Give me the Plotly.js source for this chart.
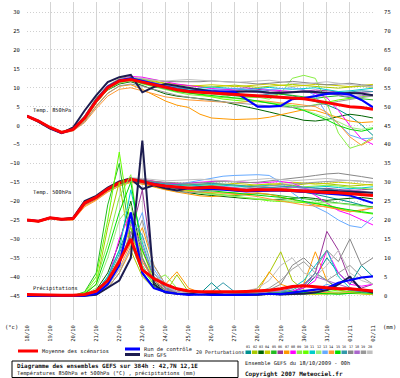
<!DOCTYPE html>
<html><head><meta charset="utf-8">
<script src="https://cdn.plot.ly/plotly-3.0.1.min.js"></script>
<style>html,body{margin:0;padding:0;background:#fff}#chart{width:400px;height:378px}</style>
</head><body><div id="chart"></div>
<script>
// time axis (hours since 18/10/2009 00h), 12-hourly
const hours = [0,12,24,36,48,60,72,84,96,108,120,132,144,156,168,180,192,204,216,228,240,252,264,276,288,300,312,324,336,348,360];
const tickHours = [0,24,48,72,96,120,144,168,192,216,240,264,288,312,336,360];
const dateLabels = ["18/10","19/10","20/10","21/10","22/10","23/10","24/10","25/10","26/10","27/10","28/10","29/10","30/10","31/10","01/11","02/11"];
const leftTicks = [30,25,20,15,10,5,0,-5,-10,-15,-20,-25,-30,-35,-40,-45];
const rightTicks = [75,70,65,60,55,50,45,40,35,30,25,20,15,10,5,0];
const pertNames = ["01","02","03","04","05","06","07","08","09","10","11","12","13","14","15","16","17","18","19","20"];
const pertColors = ["#009090","#a8c800","#006400","#cccc00","#22bb22","#993399","#ff9900","#ff00ff","#88ee44","#66ff00","#00cccc","#99ee77","#66aaff","#ff9933","#00dd00","#3399aa","#888888","#aa66cc","#999999","#c0c0c0"];

// 850 hPa temperature (°C)
const t850Mean = [2.5,1.2,-0.5,-1.8,-1.0,2.0,6.5,10.0,11.8,12.2,11.5,10.8,10.0,9.5,9.0,8.8,8.6,8.4,8.2,8.0,7.8,7.6,7.4,7.3,7.1,6.6,6.0,5.5,5.0,4.8,4.3];
const t850Control = [2.5,1.2,-0.6,-1.9,-1.0,2.2,6.8,10.3,12.0,12.5,11.8,11.0,10.2,9.6,9.2,9.0,9.0,9.0,8.9,7.0,5.0,5.0,5.2,7.0,7.3,7.8,8.4,8.6,8.2,6.8,4.8];
const t850Gfs = [2.5,1.0,-0.8,-2.0,-0.5,4.0,8.0,11.5,12.8,13.4,8.8,10.2,11.0,10.5,9.8,9.4,9.0,8.8,8.9,9.1,9.0,8.7,8.6,8.8,9.0,8.9,8.6,8.4,8.6,8.5,8.0];
const t850Perts = [
 [2.6,1.0,-0.8,-2.0,-1.2,1.5,6.0,9.6,11.4,12.0,11.2,10.5,9.8,9.6,9.3,9.0,8.8,8.6,8.8,9.0,9.2,8.8,8.4,7.9,7.2,6.4,5.5,4.2,2.5,0.2,-2.6],
 [2.5,1.3,-0.4,-1.6,-0.7,2.6,7.3,10.6,12.4,12.9,12.1,11.6,11.1,10.9,10.6,10.3,10.2,10.5,10.7,10.4,10.1,10.4,10.6,10.9,10.6,10.3,10.1,9.9,10.2,10.4,10.1],
 [2.4,1.1,-0.6,-1.9,-1.1,1.8,6.2,9.4,11.0,11.6,10.6,9.6,8.4,7.8,7.5,7.2,6.8,6.3,5.7,5.0,4.3,3.6,2.8,2.0,1.4,1.2,1.6,2.4,3.0,2.6,2.0],
 [2.5,1.2,-0.5,-1.7,-0.9,2.2,6.8,10.2,12.0,12.6,12.2,11.8,11.2,10.8,10.5,10.6,10.8,10.6,10.3,10.5,10.8,11.0,10.7,10.4,10.6,10.9,10.8,10.5,10.3,10.6,10.9],
 [2.5,1.2,-0.6,-1.8,-1.0,2.1,6.6,10.1,11.9,12.3,11.6,10.9,10.1,9.6,9.0,8.7,8.5,8.1,7.8,7.6,7.5,7.9,8.3,8.0,7.5,7.2,7.6,7.9,7.4,7.0,6.8],
 [2.6,1.3,-0.4,-1.8,-1.1,1.9,6.4,9.8,11.7,12.4,12.0,11.4,10.6,10.0,9.7,9.4,9.2,9.5,9.8,10.0,9.6,9.2,9.0,8.8,9.1,9.4,9.2,8.9,8.6,8.8,9.0],
 [2.4,1.0,-0.7,-2.0,-1.3,1.2,5.2,8.6,10.4,10.8,9.6,8.0,6.5,5.4,4.8,3.0,2.0,1.8,1.6,1.7,1.8,2.2,2.9,3.6,4.2,4.0,3.0,2.0,1.2,0.8,1.0],
 [2.5,1.2,-0.5,-1.8,-1.0,2.0,6.6,10.3,12.2,13.0,12.8,12.2,11.5,11.0,10.6,10.2,9.8,9.6,9.4,9.6,9.8,9.5,9.2,9.0,9.0,8.5,7.4,4.0,0.0,-3.5,-5.0],
 [2.5,1.2,-0.5,-1.9,-1.2,1.6,6.0,9.5,11.2,11.8,11.0,10.2,9.4,8.8,8.2,7.9,7.6,7.4,7.2,7.4,7.5,7.0,8.5,12.5,13.3,12.5,6.0,-2.0,-6.0,-5.0,-3.0],
 [2.4,1.1,-0.6,-1.9,-1.0,2.2,6.9,10.4,12.0,12.4,11.5,10.6,9.8,9.2,8.8,8.2,7.6,7.0,6.7,6.4,6.3,6.0,5.6,5.3,5.0,5.5,6.2,6.8,7.2,7.6,8.0],
 [2.5,1.2,-0.5,-1.8,-1.1,1.9,6.4,9.9,11.7,12.2,11.7,11.0,10.4,9.9,9.6,9.9,10.2,10.0,9.7,9.5,9.8,10.1,9.8,9.6,9.8,10.0,9.5,9.0,9.2,9.6,9.9],
 [2.5,1.3,-0.3,-1.6,-0.8,2.4,7.0,10.4,12.1,12.5,11.8,11.0,10.2,9.8,9.4,9.0,8.6,8.0,7.2,6.8,6.5,6.2,5.8,5.2,4.2,3.0,2.0,1.0,-0.5,-1.0,-0.5],
 [2.6,1.3,-0.4,-1.7,-0.9,2.1,6.7,10.2,12.0,12.5,12.0,11.3,10.6,10.2,9.8,9.6,9.5,9.7,9.9,9.6,9.2,9.5,9.8,10.0,9.5,8.0,3.0,0.5,-2.5,-3.5,-3.3],
 [2.3,1.0,-0.7,-2.1,-1.4,0.8,4.5,7.8,9.6,10.0,9.2,8.4,7.6,7.2,6.8,6.6,6.4,6.2,6.0,6.3,6.6,6.4,6.0,5.8,5.5,5.0,3.5,0.5,-3.0,-5.2,-3.5],
 [2.5,1.2,-0.5,-1.8,-1.0,2.0,6.5,10.0,11.8,12.0,11.2,10.4,9.6,9.0,8.6,8.3,8.0,7.8,7.5,7.0,6.5,6.0,5.5,4.8,4.0,2.8,1.5,0.0,-1.0,-1.5,-0.8],
 [2.5,1.1,-0.6,-1.9,-1.0,2.0,6.5,10.1,11.9,12.6,12.0,11.2,10.5,10.0,9.8,9.6,9.2,8.8,8.5,8.2,8.0,8.3,8.6,8.8,9.0,8.7,8.4,8.6,8.9,9.2,9.0],
 [2.6,1.4,-0.3,-1.6,-0.8,2.3,6.8,10.3,12.1,12.7,12.4,12.0,11.7,11.6,11.5,11.6,11.8,11.7,11.5,11.3,11.0,11.2,11.5,11.7,11.4,11.0,10.8,11.0,11.2,10.8,10.5],
 [2.5,1.2,-0.5,-1.8,-1.0,1.9,6.5,10.0,11.8,12.3,11.4,10.6,9.8,9.5,9.2,9.0,9.0,9.2,9.3,9.0,8.8,8.5,8.8,9.0,9.2,9.0,8.5,8.0,7.6,7.9,8.2],
 [2.4,1.0,-0.8,-2.0,-1.3,1.0,5.0,8.5,10.5,11.0,10.4,9.6,8.6,8.0,7.5,7.0,6.6,6.3,6.0,5.8,5.5,5.2,5.0,4.8,5.0,5.3,5.8,6.4,7.0,7.4,7.8],
 [2.6,1.3,-0.4,-1.7,-0.9,2.4,7.0,10.6,12.3,12.8,12.5,12.0,11.8,12.0,12.2,12.0,11.8,11.6,11.4,11.6,11.8,12.0,11.6,11.2,11.0,11.3,11.6,11.2,10.8,10.5,10.2]
];

// 500 hPa temperature (°C)
const t500Mean = [-25.0,-25.3,-24.4,-24.8,-24.6,-20.5,-19.0,-16.8,-15.2,-14.2,-14.8,-15.6,-16.0,-16.3,-16.5,-16.5,-16.3,-16.6,-17.0,-17.2,-17.0,-17.0,-17.0,-17.2,-17.4,-17.6,-17.7,-17.8,-18.0,-18.3,-18.5];
const t500Control = [-25.0,-25.3,-24.4,-24.8,-24.6,-20.5,-19.0,-16.8,-15.2,-14.3,-14.8,-15.5,-16.0,-16.4,-16.6,-16.8,-16.7,-16.9,-17.2,-17.4,-17.3,-17.2,-17.1,-17.3,-17.5,-17.7,-18.0,-18.2,-18.5,-19.4,-20.5];
const t500Gfs = [-25.0,-25.3,-24.4,-24.8,-24.4,-20.0,-18.6,-16.4,-14.8,-14.0,-16.8,-15.8,-16.6,-17.2,-16.6,-16.3,-16.5,-16.8,-17.0,-17.3,-17.2,-17.1,-17.2,-17.4,-17.5,-17.3,-17.2,-17.4,-17.5,-17.6,-17.8];
const t500Perts = [
 [-25.1,-25.4,-24.5,-24.9,-24.7,-20.8,-19.2,-17.0,-15.4,-14.4,-15.0,-15.8,-16.2,-16.5,-16.6,-16.4,-16.0,-16.3,-16.8,-17.0,-16.6,-16.4,-16.8,-17.2,-17.6,-18.2,-18.8,-19.5,-20.2,-21.0,-21.8],
 [-25.0,-25.2,-24.3,-24.7,-24.5,-20.3,-18.8,-16.6,-15.0,-14.0,-14.4,-15.0,-15.4,-15.6,-15.8,-15.6,-15.3,-15.5,-15.8,-16.0,-15.7,-15.4,-15.6,-15.9,-15.5,-15.2,-15.4,-15.7,-16.0,-15.8,-15.5],
 [-25.0,-25.3,-24.4,-24.8,-24.6,-20.6,-19.1,-17.0,-15.6,-14.8,-15.4,-16.2,-16.8,-17.3,-17.8,-18.2,-18.5,-18.8,-19.0,-19.3,-19.5,-19.6,-19.5,-19.2,-19.0,-19.3,-19.8,-19.5,-19.2,-19.0,-19.4],
 [-25.0,-25.3,-24.4,-24.8,-24.6,-20.5,-19.0,-16.7,-15.0,-14.0,-14.3,-14.8,-15.2,-15.4,-15.5,-15.7,-15.9,-15.6,-15.3,-15.5,-15.8,-15.6,-15.3,-15.0,-15.2,-15.5,-15.3,-15.0,-15.2,-15.5,-15.8],
 [-25.1,-25.3,-24.5,-24.8,-24.7,-20.7,-19.1,-16.9,-15.3,-14.3,-14.9,-15.7,-16.3,-16.8,-17.3,-17.8,-18.1,-18.4,-18.5,-18.3,-18.0,-18.2,-18.6,-19.0,-19.4,-19.8,-20.2,-20.5,-20.8,-21.2,-21.5],
 [-25.0,-25.3,-24.4,-24.8,-24.6,-20.5,-19.0,-16.8,-15.2,-14.2,-14.6,-15.2,-15.8,-16.2,-16.4,-16.3,-16.0,-16.2,-16.5,-16.8,-16.6,-16.4,-16.6,-16.9,-17.0,-16.8,-16.6,-16.9,-17.2,-17.0,-16.8],
 [-25.2,-25.5,-24.6,-25.0,-24.9,-21.2,-19.6,-17.5,-16.0,-15.0,-15.5,-16.3,-17.0,-17.6,-18.2,-18.6,-18.8,-18.6,-18.3,-18.0,-17.8,-18.2,-18.8,-19.6,-20.4,-21.0,-21.6,-22.4,-22.8,-22.3,-21.8],
 [-25.0,-25.3,-24.4,-24.8,-24.6,-20.4,-18.9,-16.6,-15.0,-14.0,-14.2,-14.8,-15.2,-15.4,-15.2,-15.0,-14.8,-14.6,-14.8,-15.0,-15.2,-15.0,-14.8,-15.2,-16.5,-18.5,-20.5,-22.5,-23.5,-25.0,-26.3],
 [-25.1,-25.4,-24.5,-24.9,-24.7,-20.8,-19.3,-17.2,-15.6,-14.6,-15.2,-16.0,-16.5,-17.0,-17.2,-17.4,-17.6,-17.8,-17.6,-17.4,-17.2,-17.0,-16.8,-16.5,-16.2,-16.0,-15.8,-16.0,-16.3,-16.6,-16.9],
 [-25.0,-25.3,-24.4,-24.8,-24.6,-20.5,-19.0,-16.8,-15.2,-14.3,-14.8,-15.6,-16.2,-16.8,-17.2,-17.6,-18.0,-18.4,-18.8,-19.2,-19.6,-19.9,-20.1,-20.2,-20.3,-20.5,-21.0,-21.8,-22.6,-23.0,-23.4],
 [-25.0,-25.2,-24.3,-24.7,-24.5,-20.4,-18.9,-16.7,-15.1,-14.1,-14.5,-15.1,-15.5,-15.8,-16.0,-15.8,-15.6,-15.8,-16.0,-16.2,-16.0,-15.8,-16.0,-16.3,-16.5,-16.3,-16.1,-16.4,-16.7,-16.5,-16.2],
 [-25.0,-25.3,-24.4,-24.8,-24.6,-20.6,-19.1,-16.9,-15.3,-14.3,-14.9,-15.7,-16.4,-17.0,-17.5,-17.9,-18.2,-18.5,-18.9,-19.2,-19.4,-19.6,-19.8,-20.0,-20.1,-20.2,-20.4,-20.6,-21.0,-21.4,-21.8],
 [-25.0,-25.3,-24.4,-24.8,-24.6,-20.5,-19.0,-16.8,-15.2,-14.3,-14.8,-15.4,-15.8,-15.6,-15.0,-14.4,-13.8,-13.4,-13.2,-13.0,-13.0,-13.2,-15.0,-17.8,-20.0,-21.5,-23.0,-25.0,-26.5,-27.0,-24.2],
 [-25.2,-25.5,-24.7,-25.1,-25.0,-21.5,-19.8,-17.6,-16.0,-15.0,-15.4,-16.0,-16.5,-17.0,-17.4,-17.6,-17.8,-17.9,-18.0,-18.3,-18.8,-19.4,-20.0,-20.5,-21.0,-21.3,-21.5,-22.0,-22.8,-22.5,-21.8],
 [-25.0,-25.3,-24.4,-24.8,-24.6,-20.5,-19.0,-16.8,-15.2,-14.2,-14.8,-15.5,-16.0,-16.4,-16.7,-17.0,-17.3,-17.5,-17.8,-18.0,-18.3,-18.6,-19.0,-19.5,-20.0,-20.6,-21.2,-21.8,-22.4,-22.8,-23.2],
 [-25.0,-25.3,-24.4,-24.8,-24.6,-20.5,-19.0,-16.8,-15.2,-14.1,-14.5,-15.0,-15.4,-15.6,-15.7,-15.5,-15.3,-15.5,-15.8,-16.0,-16.2,-16.4,-16.2,-16.0,-16.3,-16.6,-16.8,-17.0,-17.3,-17.6,-17.8],
 [-25.0,-25.2,-24.3,-24.7,-24.5,-20.3,-18.8,-16.5,-14.9,-13.9,-14.2,-14.8,-15.0,-15.2,-15.3,-15.2,-15.0,-14.8,-14.9,-15.1,-15.0,-14.7,-14.4,-14.0,-13.6,-13.2,-12.8,-12.6,-13.0,-13.5,-14.0],
 [-25.0,-25.3,-24.4,-24.8,-24.6,-20.5,-19.0,-16.8,-15.2,-14.2,-14.6,-15.3,-15.8,-16.2,-16.5,-16.6,-16.4,-16.2,-16.4,-16.8,-17.0,-16.8,-16.5,-16.3,-16.6,-17.0,-17.4,-17.2,-17.0,-17.4,-17.8],
 [-25.1,-25.4,-24.6,-25.0,-24.8,-21.0,-19.4,-17.2,-15.6,-14.6,-15.2,-16.0,-16.8,-17.4,-17.8,-17.6,-17.3,-17.0,-16.7,-16.5,-16.3,-16.0,-15.7,-15.4,-15.2,-15.0,-14.8,-14.6,-14.5,-14.7,-15.0],
 [-24.9,-25.2,-24.3,-24.7,-24.5,-20.2,-18.7,-16.5,-14.9,-13.8,-14.0,-14.4,-14.6,-14.5,-14.3,-14.2,-14.4,-14.6,-14.8,-14.5,-14.2,-14.0,-14.3,-14.6,-14.4,-14.2,-14.0,-14.3,-14.6,-14.8,-15.0]
];

// precipitation (mm), right axis
const precMean = [0.3,0.2,0.1,0.1,0.1,0.3,1.2,4.0,9.0,15.0,6.8,4.5,3.0,1.8,1.2,1.0,1.0,0.9,1.0,1.1,1.2,1.4,1.8,2.4,2.6,2.4,2.0,1.8,1.8,1.5,1.2];
const precControl = [0,0,0,0,0,0,0.5,3.0,8.0,22.0,6.0,2.0,1.0,0.5,0.2,0.3,0.2,0.2,0.1,0.2,0.3,0.5,0.4,0.8,1.2,1.5,2.0,3.4,4.0,4.8,5.1];
const precGfs = [0,0,0,0,0,0,0.2,2.0,4.0,10.0,41.0,3.0,0.8,0.5,0.4,1.0,0.5,0.3,0.2,0.3,0.2,0.5,0.3,0.4,0.5,0.8,1.5,3.0,5.0,1.5,0.8];
const precPerts = [
 [0,0,0,0,0,0,1.0,5.0,12.0,20.0,8.0,3.0,1.0,0.5,0.3,0.5,3.4,0.6,0.3,0.5,0.8,1.2,0.6,1.0,2.0,5.0,10.0,6.0,3.0,8.0,5.0],
 [0,0,0,0,0,0.5,3.0,18.0,30.0,12.0,5.0,2.0,0.8,5.5,1.0,0.3,0.2,0.5,0.8,0.4,2.0,6.0,11.6,4.0,1.5,0.6,0.4,0.8,1.2,0.5,0.3],
 [0,0,0,0,0,0.2,1.5,6.0,14.0,25.0,10.0,3.5,1.5,0.8,0.4,0.3,0.5,1.0,0.6,0.3,0.2,0.4,0.6,0.5,0.8,1.0,1.4,2.0,1.5,1.0,0.8],
 [0,0,0,0,0,0,0.8,4.0,10.0,18.0,12.0,4.0,1.5,0.6,0.3,0.2,0.2,0.3,0.5,0.3,0.2,0.3,0.5,0.6,0.4,0.3,0.5,0.8,0.6,0.4,0.3],
 [0,0,0,0,0,1.0,6.0,24.0,35.0,14.0,6.0,2.5,1.0,0.6,0.4,0.3,0.2,0.3,0.4,0.6,0.5,0.3,0.4,0.6,1.0,0.8,0.5,0.4,0.6,0.8,0.5],
 [0,0,0,0,0,0,0.5,3.0,9.0,16.0,28.0,6.0,2.0,1.0,0.5,0.4,0.3,0.2,0.3,0.2,0.3,0.5,0.8,1.0,2.5,6.0,17.0,12.0,4.0,2.0,3.0],
 [0,0,0,0,0,0,0.3,2.0,6.0,12.0,18.0,8.0,3.0,6.3,2.0,0.8,0.5,0.4,0.6,0.8,1.0,6.3,3.0,2.0,3.0,11.6,4.0,1.5,0.8,0.6,0.5],
 [0,0,0,0,0,0,0.8,4.0,15.0,22.0,9.0,4.0,1.5,0.8,0.5,0.3,0.2,0.2,0.3,0.4,0.5,0.8,1.0,1.2,2.0,4.0,12.0,6.0,3.0,2.5,3.0],
 [0,0,0,0,0,0.5,4.0,14.0,26.0,32.0,10.0,4.0,5.5,2.0,1.0,0.5,0.4,0.3,0.4,0.6,0.8,1.0,1.5,1.0,0.8,0.6,0.5,0.8,1.2,0.8,0.6],
 [0,0,0,0,0,0.8,5.0,20.0,38.0,18.0,7.0,3.0,1.2,0.6,0.4,0.3,0.4,0.6,0.4,0.3,0.5,0.8,0.6,0.4,0.5,0.7,1.0,1.5,1.0,0.8,0.6],
 [0,0,0,0,0,0,1.0,5.0,12.0,28.0,14.0,5.0,2.0,1.0,0.6,0.4,0.3,0.5,0.8,0.6,0.4,0.6,1.0,2.0,4.0,8.0,12.0,5.0,2.0,1.5,1.0],
 [0,0,0,0,0,0.3,2.0,10.0,20.0,24.0,8.0,3.0,1.0,0.5,0.3,0.2,0.3,0.4,0.3,0.2,0.4,0.6,0.8,0.5,0.4,0.6,0.8,1.0,0.8,0.6,0.5],
 [0,0,0,0,0,0,0.6,3.5,9.0,15.0,22.0,7.0,2.5,1.0,0.5,0.4,0.3,0.2,0.3,0.4,0.3,0.5,0.6,0.8,1.0,1.5,3.0,2.0,1.5,1.0,0.8],
 [0,0,0,0,0,0,0.4,2.5,7.0,14.0,9.0,4.0,2.0,1.0,0.6,0.4,0.3,0.4,0.5,0.4,0.3,0.5,0.7,0.9,1.2,1.0,0.8,0.6,0.8,1.0,0.8],
 [0,0,0,0,0,0.4,3.0,12.0,22.0,30.0,12.0,5.0,2.0,1.0,0.5,0.4,0.3,0.3,0.4,0.5,0.4,0.6,0.8,1.0,0.8,0.6,0.5,0.4,0.6,0.8,0.6],
 [0,0,0,0,0,0,0.8,4.5,11.0,20.0,16.0,6.0,2.5,1.0,0.5,0.6,1.0,3.4,1.0,0.5,0.4,0.6,0.8,1.5,3.0,6.0,4.0,2.0,1.5,1.0,0.8],
 [0,0,0,0,0,0,0.5,3.0,8.0,17.0,10.0,4.0,1.5,0.8,0.5,0.4,0.3,0.4,0.6,0.8,1.0,1.5,3.0,8.0,10.0,7.0,12.0,9.0,15.0,8.0,10.0],
 [0,0,0,0,0,0,0.6,3.0,10.0,19.0,13.0,5.0,2.0,1.0,0.6,0.4,0.3,0.2,0.3,0.5,0.8,1.0,1.2,2.0,3.0,5.0,4.0,3.0,2.0,1.5,1.2],
 [0,0,0,0,0,0,0.3,2.0,6.0,13.0,20.0,8.0,3.0,1.5,0.8,0.5,0.4,0.3,0.4,0.6,1.0,2.0,4.0,7.0,9.0,6.0,4.0,6.0,8.0,5.0,3.0],
 [0,0,0,0,0,0,0.4,2.5,7.0,12.0,15.0,6.0,2.5,1.0,0.6,0.5,0.4,0.5,0.8,1.2,2.0,4.0,8.0,10.0,6.0,5.0,8.0,12.0,6.0,4.0,3.0]
];

const RED = "#ff0000", BLUE = "#0000ff", NAVY = "#1c1c50";
const MONO = "DejaVu Sans Mono";

const traces = [];
function addGroup(perts, gfs, ctrl, mean, yaxis) {
  perts.forEach((s, k) => traces.push({x: hours, y: s, yaxis: yaxis, mode: "lines", line: {color: pertColors[k], width: 1}, hoverinfo: "skip"}));
  traces.push({x: hours, y: gfs, yaxis: yaxis, mode: "lines", line: {color: NAVY, width: 2}});
  traces.push({x: hours, y: ctrl, yaxis: yaxis, mode: "lines", line: {color: BLUE, width: 2.2}});
  traces.push({x: hours, y: mean, yaxis: yaxis, mode: "lines", line: {color: RED, width: 3}});
}
addGroup(precPerts, precGfs, precControl, precMean, "y2");
addGroup(t500Perts, t500Gfs, t500Control, t500Mean, "y");
addGroup(t850Perts, t850Gfs, t850Control, t850Mean, "y");

// pixel helpers for items drawn outside the plot area
const PL = 27, PR = 373, PT = 2, PB = 320;
const fx = x => (x - PL) / (PR - PL);
const fy = y => (PB - y) / (PB - PT);

const ann = [];
const shapes = [];
function txt(x, y, s, size, bold, anchor) {
  ann.push({xref: "paper", yref: "paper", x: fx(x), y: fy(y), text: bold ? "<b>" + s + "</b>" : s,
    showarrow: false, xanchor: anchor || "left", yanchor: "middle", borderpad: 0,
    font: {family: MONO, size: size, color: "#111"}});
}
function seg(x0, x1, y, color, w) {
  shapes.push({type: "line", xref: "paper", yref: "paper", x0: fx(x0), x1: fx(x1), y0: fy(y), y1: fy(y), line: {color: color, width: w}});
}

txt(32, 110, "Temp. 850hPa", 5.3);
txt(32, 192, "Temp. 500hPa", 5.3);
txt(32, 288, "Précipitations", 5.3);
txt(4, 327, "(°c)", 5.5);
txt(382, 327, "(mm)", 5.5);

seg(18, 38, 351, RED, 3);
txt(41, 351, "Moyenne des scénarios", 5.3);
seg(125, 140, 349, BLUE, 3);
seg(125, 140, 354.5, NAVY, 3);
txt(143, 349, "Run de contrôle", 5.3);
txt(143, 355, "Run GFS", 5.3);
txt(195, 352, "20 Perturbations", 5);
pertNames.forEach((n, k) => {
  const x0 = 245 + k * 6.4;
  shapes.push({type: "rect", xref: "paper", yref: "paper", x0: fx(x0 + 0.5), x1: fx(x0 + 6), y0: fy(354), y1: fy(350.5),
    line: {width: 0}, fillcolor: pertColors[k]});
  txt(x0 + 3.2, 347, n, 3.5, false, "center");
});

shapes.push({type: "rect", xref: "paper", yref: "paper", x0: fx(12), x1: fx(238), y0: fy(361), y1: fy(377.5),
  line: {color: "#000", width: 1}, fillcolor: "rgba(0,0,0,0)"});
txt(16, 366, "Diagramme des ensembles GEFS sur 384h : 42,7N 12,1E", 5.9, true);
txt(16, 373.5, "Températures 850hPa et 500hPa (°C) , précipitations (mm)", 5.3);
txt(244, 362.5, "Ensemble GEFS du 18/10/2009 - 00h", 5.3);
txt(244, 373.5, "Copyright 2007 Meteociel.fr", 6, true);

const yRange = [-51.45, 32.7];
const layout = {
  width: 400, height: 378,
  margin: {l: PL, r: 400 - PR, t: PT, b: 378 - PB},
  paper_bgcolor: "#fff", plot_bgcolor: "#fff",
  showlegend: false,
  font: {family: MONO, size: 5.5, color: "#111"},
  xaxis: {range: [0, 360], tickvals: tickHours, ticktext: dateLabels, tickangle: -90,
    showgrid: true, gridcolor: "#d4d4d4", gridwidth: 1, zeroline: false, showline: false,
    ticks: "outside", ticklen: 2, tickcolor: "rgba(0,0,0,0)", tickfont: {family: MONO, size: 5.5, color: "#111"}},
  yaxis: {range: yRange, tickvals: leftTicks, showgrid: true, gridcolor: "#d0d0d0", griddash: "1px,2px",
    zeroline: false, showline: false, ticks: "outside", ticklen: 5, tickcolor: "rgba(0,0,0,0)",
    tickfont: {family: MONO, size: 5.5, color: "#111"}},
  yaxis2: {range: [yRange[0] + 45, yRange[1] + 45], tickvals: rightTicks, overlaying: "y", side: "right",
    showgrid: false, zeroline: false, showline: false, ticks: "outside", ticklen: 9, tickcolor: "rgba(0,0,0,0)",
    tickfont: {family: MONO, size: 5.5, color: "#111"}},
  shapes: shapes, annotations: ann
};
Plotly.newPlot("chart", traces, layout, {staticPlot: true, displayModeBar: false});
</script></body></html>
